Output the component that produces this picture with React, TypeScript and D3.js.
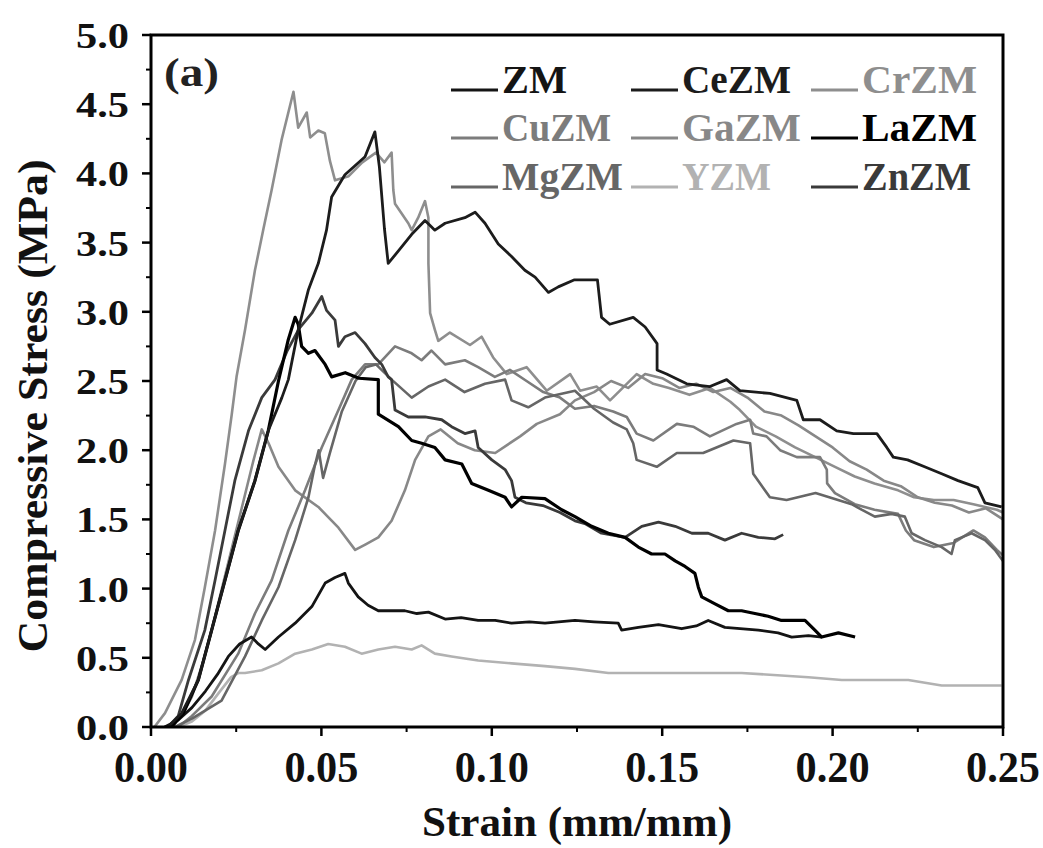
import React from "react";
import * as d3 from "d3";

type Pt = [number, number];

const seriesNames = ["ZM", "CeZM", "CrZM", "CuZM", "GaZM", "LaZM", "MgZM", "YZM", "ZnZM"];

const ZM: Pt[] = [[0.004,0],[0.008,0.05],[0.012,0.14],[0.016,0.26],[0.0195,0.38],[0.0227,0.51],[0.026,0.6],[0.0295,0.65],[0.0315,0.6],[0.0335,0.56],[0.0374,0.65],[0.0423,0.75],[0.0472,0.87],[0.0511,1.04],[0.054,1.08],[0.0569,1.11],[0.0579,1.04],[0.0608,0.94],[0.0637,0.88],[0.0667,0.84],[0.0706,0.84],[0.0745,0.84],[0.078,0.82],[0.0814,0.83],[0.0863,0.78],[0.091,0.79],[0.096,0.77],[0.101,0.77],[0.1058,0.75],[0.111,0.76],[0.1156,0.75],[0.1244,0.77],[0.13,0.76],[0.1371,0.75],[0.1381,0.70],[0.143,0.72],[0.1489,0.74],[0.1557,0.71],[0.16,0.73],[0.1635,0.77],[0.1684,0.72],[0.1782,0.70],[0.184,0.68],[0.188,0.65],[0.1929,0.66],[0.1968,0.65]];

const CeZM: Pt[] = [[0.005,0],[0.009,0.1],[0.0139,0.34],[0.0178,0.70],[0.0217,1.06],[0.0256,1.42],[0.0305,1.78],[0.0344,2.14],[0.0384,2.38],[0.0403,2.51],[0.0432,2.87],[0.0462,3.16],[0.0491,3.35],[0.0515,3.59],[0.053,3.83],[0.0569,3.99],[0.0628,4.12],[0.0657,4.3],[0.067,4.05],[0.0685,3.6],[0.0696,3.35],[0.0726,3.44],[0.0765,3.56],[0.0804,3.66],[0.0833,3.59],[0.0863,3.64],[0.0921,3.68],[0.0951,3.72],[0.098,3.64],[0.1019,3.49],[0.1058,3.40],[0.1097,3.30],[0.1127,3.25],[0.1166,3.14],[0.1195,3.18],[0.1241,3.23],[0.131,3.23],[0.1322,2.96],[0.1346,2.91],[0.1415,2.96],[0.145,2.89],[0.1485,2.77],[0.1485,2.58],[0.1513,2.55],[0.1572,2.48],[0.164,2.46],[0.1689,2.51],[0.1728,2.43],[0.1816,2.41],[0.1895,2.36],[0.1914,2.22],[0.1963,2.22],[0.2012,2.14],[0.2061,2.12],[0.213,2.12],[0.2159,2.02],[0.2178,1.95],[0.222,1.93],[0.227,1.88],[0.232,1.83],[0.2368,1.78],[0.2426,1.73],[0.2447,1.62],[0.2496,1.59]];

const CrZM: Pt[] = [[0.001,0],[0.0041,0.10],[0.009,0.34],[0.0129,0.63],[0.0158,1.01],[0.0188,1.42],[0.0217,1.90],[0.0237,2.26],[0.0251,2.53],[0.0276,2.87],[0.0305,3.30],[0.033,3.6],[0.0354,3.88],[0.0383,4.24],[0.0418,4.59],[0.0432,4.33],[0.0457,4.44],[0.0467,4.26],[0.0491,4.31],[0.051,4.29],[0.0525,4.09],[0.054,3.95],[0.058,3.98],[0.062,4.08],[0.066,4.15],[0.0685,4.08],[0.0706,4.15],[0.0711,3.88],[0.0716,3.78],[0.0755,3.64],[0.0765,3.59],[0.0784,3.68],[0.0804,3.80],[0.0814,3.68],[0.0814,3.35],[0.0819,2.99],[0.0833,2.87],[0.0843,2.79],[0.0877,2.85],[0.0936,2.76],[0.097,2.82],[0.1004,2.67],[0.1044,2.55],[0.1102,2.60],[0.1161,2.43],[0.123,2.55],[0.1259,2.43],[0.1308,2.46],[0.1347,2.36],[0.1376,2.43],[0.1425,2.55],[0.1474,2.48],[0.152,2.45],[0.158,2.40],[0.164,2.45],[0.17,2.35],[0.1728,2.29],[0.1775,2.17],[0.1833,2.10],[0.189,2.02],[0.1949,1.95],[0.2007,1.88],[0.2065,1.81],[0.2123,1.76],[0.2192,1.71],[0.2239,1.66],[0.2297,1.64],[0.2355,1.64],[0.2413,1.61],[0.2482,1.57],[0.25,1.55]];

const CuZM: Pt[] = [[0.008,0],[0.012,0.08],[0.0178,0.22],[0.0256,0.53],[0.0305,0.82],[0.0354,1.06],[0.0403,1.42],[0.0452,1.71],[0.0501,2.02],[0.055,2.29],[0.0589,2.51],[0.0628,2.62],[0.0667,2.62],[0.0716,2.75],[0.0765,2.70],[0.0794,2.65],[0.0823,2.72],[0.0863,2.62],[0.0921,2.65],[0.096,2.60],[0.1009,2.53],[0.1053,2.58],[0.1102,2.50],[0.1151,2.42],[0.12,2.38],[0.1244,2.3],[0.13,2.32],[0.1356,2.28],[0.1396,2.24],[0.1425,2.12],[0.1474,2.07],[0.1543,2.19],[0.1591,2.17],[0.164,2.10],[0.1718,2.19],[0.1758,2.22],[0.1767,2.12],[0.1806,2.10],[0.1846,2.0],[0.1895,1.95],[0.1963,1.95],[0.1983,1.86],[0.1984,1.76],[0.2007,1.69],[0.2065,1.61],[0.2123,1.57],[0.2192,1.54],[0.2215,1.42],[0.2239,1.35],[0.2297,1.30],[0.2355,1.33],[0.2413,1.42],[0.2447,1.37],[0.2482,1.28],[0.25,1.24]];

const GaZM: Pt[] = [[0.006,0],[0.009,0.08],[0.012,0.22],[0.015,0.45],[0.018,0.72],[0.021,1.02],[0.024,1.32],[0.027,1.62],[0.03,1.92],[0.0325,2.15],[0.0345,2.05],[0.0374,1.88],[0.0423,1.71],[0.0491,1.59],[0.055,1.44],[0.0599,1.28],[0.063,1.32],[0.0667,1.37],[0.0706,1.49],[0.0745,1.71],[0.0775,1.93],[0.0814,2.10],[0.085,2.15],[0.09,2.05],[0.095,2.0],[0.101,1.98],[0.1083,2.10],[0.1132,2.19],[0.12,2.26],[0.1244,2.36],[0.13,2.42],[0.135,2.5],[0.14,2.45],[0.145,2.55],[0.15,2.52],[0.155,2.45],[0.16,2.48],[0.165,2.42],[0.17,2.45],[0.175,2.38],[0.18,2.28],[0.185,2.25],[0.19,2.18],[0.195,2.1],[0.2,2.02],[0.205,1.92],[0.21,1.86],[0.215,1.78],[0.22,1.74],[0.225,1.66],[0.23,1.62],[0.235,1.6],[0.24,1.55],[0.245,1.58],[0.25,1.5]];

const LaZM: Pt[] = [[0.006,0],[0.0095,0.1],[0.0139,0.34],[0.0178,0.70],[0.0217,1.06],[0.0256,1.42],[0.0305,1.78],[0.0344,2.14],[0.0374,2.5],[0.0403,2.8],[0.0423,2.96],[0.0432,2.91],[0.0442,2.75],[0.0462,2.70],[0.0481,2.72],[0.0511,2.62],[0.053,2.53],[0.057,2.56],[0.061,2.52],[0.0667,2.51],[0.0667,2.26],[0.0726,2.17],[0.0765,2.07],[0.0794,2.05],[0.0833,2.02],[0.0863,1.93],[0.0912,1.90],[0.0941,1.76],[0.099,1.71],[0.1039,1.66],[0.1058,1.59],[0.1088,1.66],[0.1156,1.65],[0.1205,1.57],[0.1244,1.52],[0.1293,1.45],[0.1342,1.40],[0.1391,1.37],[0.143,1.30],[0.1469,1.25],[0.1508,1.25],[0.1538,1.20],[0.1567,1.16],[0.1596,1.11],[0.1606,1.01],[0.1616,0.94],[0.1655,0.89],[0.1694,0.84],[0.1733,0.84],[0.1772,0.82],[0.1811,0.80],[0.185,0.77],[0.1919,0.77],[0.1948,0.70],[0.1968,0.65],[0.2017,0.68],[0.2066,0.65]];

const MgZM: Pt[] = [[0.007,0],[0.012,0.06],[0.0207,0.19],[0.0276,0.51],[0.0325,0.77],[0.0374,1.01],[0.0423,1.35],[0.0462,1.66],[0.048,1.88],[0.0492,2.0],[0.0505,1.8],[0.0525,1.98],[0.056,2.28],[0.06,2.5],[0.063,2.6],[0.066,2.62],[0.0706,2.51],[0.0765,2.38],[0.0814,2.46],[0.0863,2.51],[0.092,2.42],[0.098,2.48],[0.1039,2.51],[0.1058,2.36],[0.1107,2.31],[0.1156,2.38],[0.1244,2.43],[0.13,2.3],[0.1356,2.2],[0.1396,2.15],[0.1415,2.05],[0.1425,1.93],[0.1484,1.88],[0.1543,1.98],[0.162,1.98],[0.1709,2.07],[0.1758,2.05],[0.1767,1.83],[0.1816,1.66],[0.1865,1.64],[0.195,1.69],[0.2056,1.61],[0.2085,1.57],[0.2124,1.52],[0.2173,1.54],[0.2212,1.52],[0.2232,1.40],[0.2271,1.35],[0.232,1.30],[0.2349,1.25],[0.2359,1.35],[0.2408,1.40],[0.2447,1.35],[0.2476,1.28],[0.25,1.2]];

const YZM: Pt[] = [[0.008,0],[0.012,0.04],[0.016,0.12],[0.02,0.25],[0.0235,0.36],[0.0256,0.39],[0.0276,0.39],[0.0325,0.41],[0.0374,0.46],[0.0423,0.53],[0.0472,0.56],[0.052,0.60],[0.0569,0.58],[0.0618,0.53],[0.0667,0.56],[0.0716,0.58],[0.0765,0.56],[0.0794,0.59],[0.0833,0.53],[0.0882,0.51],[0.096,0.48],[0.1058,0.46],[0.1156,0.44],[0.1244,0.42],[0.1342,0.39],[0.1538,0.39],[0.1733,0.39],[0.1929,0.36],[0.2027,0.34],[0.2222,0.34],[0.232,0.30],[0.2496,0.30]];

const ZnZM: Pt[] = [[0.005,0],[0.008,0.08],[0.011,0.34],[0.0158,0.70],[0.0188,1.06],[0.0217,1.42],[0.0246,1.78],[0.0286,2.14],[0.0325,2.38],[0.0364,2.51],[0.04,2.72],[0.0435,2.88],[0.0472,2.99],[0.0501,3.11],[0.0515,3.01],[0.054,2.94],[0.055,2.75],[0.0569,2.82],[0.0599,2.85],[0.0628,2.77],[0.0657,2.67],[0.0677,2.62],[0.0696,2.53],[0.0706,2.51],[0.0716,2.29],[0.0755,2.24],[0.0804,2.24],[0.0853,2.22],[0.0882,2.17],[0.0921,2.12],[0.0951,2.14],[0.096,2.02],[0.1,1.93],[0.1039,1.86],[0.1058,1.78],[0.1068,1.66],[0.11,1.62],[0.115,1.60],[0.12,1.55],[0.1244,1.49],[0.1273,1.47],[0.1322,1.40],[0.1391,1.37],[0.144,1.45],[0.1489,1.48],[0.1538,1.45],[0.1587,1.40],[0.1635,1.40],[0.1684,1.35],[0.1733,1.40],[0.1782,1.37],[0.1831,1.36],[0.1855,1.39]];

const xTickLabels = ["0.00", "0.05", "0.10", "0.15", "0.20", "0.25"];
const yTickLabels = ["0.0", "0.5", "1.0", "1.5", "2.0", "2.5", "3.0", "3.5", "4.0", "4.5", "5.0"];

const seriesData: Record<string, Pt[]> = { ZM, CeZM, CrZM, CuZM, GaZM, LaZM, MgZM, YZM, ZnZM };

const colors: Record<string, string> = {
  ZM: "#141414", CeZM: "#1c1c1c", CrZM: "#8e8e8e", CuZM: "#7c7c7c", GaZM: "#888888",
  LaZM: "#000000", MgZM: "#666666", YZM: "#b2b2b2", ZnZM: "#3a3a3a",
};
const widths: Record<string, number> = {
  ZM: 2.8, CeZM: 2.8, CrZM: 2.6, CuZM: 2.6, GaZM: 2.6, LaZM: 3.2, MgZM: 2.6, YZM: 2.6, ZnZM: 2.8,
};
const legendWidths: Record<string, number> = {
  ZM: 65, CeZM: 109, CrZM: 115, CuZM: 109, GaZM: 119, LaZM: 115, MgZM: 121, YZM: 89, ZnZM: 109,
};
const drawOrder = ["YZM", "CrZM", "GaZM", "CuZM", "MgZM", "ZnZM", "ZM", "LaZM", "CeZM"];

const W = 1043, H = 848;
const L = 151, R = 1003, T = 35, B = 727;
const FONT = "Liberation Serif, DejaVu Serif, serif";

export default function App() {
  const x = d3.scaleLinear().domain([0, 0.25]).range([L, R]);
  const y = d3.scaleLinear().domain([0, 5]).range([B, T]);
  const line = d3.line<Pt>().x((d) => x(d[0])).y((d) => y(d[1]));

  const xMajor = d3.range(0, 6).map((i) => i * 0.05);
  const xMinor = d3.range(0, 5).map((i) => i * 0.05 + 0.025);
  const yMajor = d3.range(0, 11).map((i) => i * 0.5);
  const yMinor = d3.range(0, 10).map((i) => i * 0.5 + 0.25);

  const legendCols = [451, 631, 811];
  const legendRows = [93, 141, 190];
  const ts = { fontFamily: FONT, fontWeight: 700 as const };

  return (
    <svg width={W} height={H} style={{ position: "absolute", left: 0, top: 0, background: "#fff" }}>
      <rect x={0} y={0} width={W} height={H} fill="#fff" />
      <defs>
        <clipPath id="plotclip">
          <rect x={L} y={T} width={R - L} height={B - T} />
        </clipPath>
      </defs>
      <g clipPath="url(#plotclip)">
        {drawOrder.map((name) => (
          <path key={name} d={line(seriesData[name]) || ""} fill="none" stroke={colors[name]}
            strokeWidth={widths[name]} strokeLinejoin="round" />
        ))}
      </g>
      <rect x={L} y={T} width={R - L} height={B - T} fill="none" stroke="#000" strokeWidth={3} />
      {xMajor.map((v, i) => (
        <g key={"xm" + i}>
          <line x1={x(v)} x2={x(v)} y1={B} y2={B + 9} stroke="#000" strokeWidth={2.5} />
          <text x={x(v)} y={782} textAnchor="middle" fontSize={44} style={ts} fill="#111"
            textLength={74} lengthAdjust="spacingAndGlyphs">{xTickLabels[i]}</text>
        </g>
      ))}
      {xMinor.map((v, i) => (
        <line key={"xn" + i} x1={x(v)} x2={x(v)} y1={B} y2={B + 5} stroke="#000" strokeWidth={2} />
      ))}
      {yMajor.map((v, i) => (
        <g key={"ym" + i}>
          <line x1={L - 9} x2={L} y1={y(v)} y2={y(v)} stroke="#000" strokeWidth={2.5} />
          <text x={129} y={y(v)} dy="0.36em" textAnchor="end" fontSize={36} style={ts} fill="#111"
            textLength={53} lengthAdjust="spacingAndGlyphs">{yTickLabels[i]}</text>
        </g>
      ))}
      {yMinor.map((v, i) => (
        <line key={"yn" + i} x1={L - 5} x2={L} y1={y(v)} y2={y(v)} stroke="#000" strokeWidth={2} />
      ))}
      <text x={577} y={836} textAnchor="middle" fontSize={42} style={ts} fill="#111"
        textLength={310} lengthAdjust="spacingAndGlyphs">Strain (mm/mm)</text>
      <text transform="translate(47,406) rotate(-90)" textAnchor="middle" fontSize={42} style={ts} fill="#111"
        textLength={493} lengthAdjust="spacingAndGlyphs">Compressive Stress (MPa)</text>
      <text x={164} y={86} fontSize={40} style={ts} fill="#222" textLength={55} lengthAdjust="spacingAndGlyphs">(a)</text>
      {seriesNames.map((name, i) => {
        const cx = legendCols[i % 3];
        const cy = legendRows[Math.floor(i / 3)];
        return (
          <g key={"lg" + name}>
            <line x1={cx} x2={cx + 47} y1={cy - 3} y2={cy - 3} stroke={colors[name]} strokeWidth={3} />
            <text x={cx + 51} y={cy} fontSize={40} style={ts} fill={colors[name]}
              textLength={legendWidths[name]} lengthAdjust="spacingAndGlyphs">{name}</text>
          </g>
        );
      })}
    </svg>
  );
}
